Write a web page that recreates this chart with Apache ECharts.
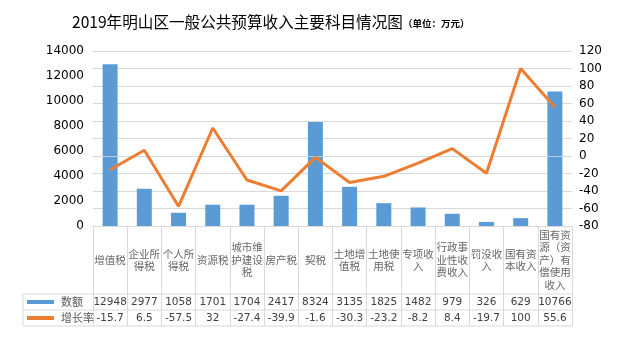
<!DOCTYPE html>
<html>
<head>
<meta charset="utf-8">
<script src="https://cdn.jsdelivr.net/npm/echarts@6/dist/echarts.min.js"></script>
<style>
html,body{margin:0;padding:0;background:#fff;}
#c{width:620px;height:342px;}
</style>
</head>
<body>
<div id="c"></div>
<script>
const categories = ['增值税','企业所得税','个人所得税','资源税','城市维护建设税','房产税','契税','土地增值税','土地使用税','专项收入','行政事业性收费收入','罚没收入','国有资本收入','国有资源（资产）有偿使用收入'];
const amounts = [12948, 2977, 1058, 1701, 1704, 2417, 8324, 3135, 1825, 1482, 979, 326, 629, 10766];
const rates = [-15.7, 6.5, -57.5, 32, -27.4, -39.9, -1.6, -30.3, -23.2, -8.2, 8.4, -19.7, 100, 55.6];
const seriesNames = ['数额', '增长率'];
const titleText = '2019年明山区一般公共预算收入主要科目情况图';
const unitText = '（单位：万元）';

const GL = 93, GR = 572, GT = 51, GB = 226;
const ROW1 = 294, ROW2 = 310, ROW3 = 326, TL = 23;
const lineColor = '#d9d9d9';
const font = "'Noto Sans CJK SC', 'DejaVu Sans', sans-serif";
const numFont = "'DejaVu Sans', sans-serif";

function wrap3(s) {
  const out = [];
  for (let i = 0; i < s.length; i += 3) out.push(s.slice(i, i + 3));
  return out.join('\n');
}

const chart = echarts.init(document.getElementById('c'), null, {renderer: 'canvas'});
const hl = (y) => ({type: 'line', shape: {x1: TL, y1: y, x2: GR, y2: y}, style: {stroke: lineColor, lineWidth: 1}, silent: true});
const vl = (x, y1, y2) => ({type: 'line', shape: {x1: x, y1: y1, x2: x, y2: y2}, style: {stroke: lineColor, lineWidth: 1}, silent: true});

chart.setOption({
  animation: false,
  title: {
    text: '{a|' + titleText + '}{b|' + unitText + '}',
    left: 67, top: 9,
    textStyle: {
      rich: {
        a: {fontSize: 15.6, fontFamily: font, color: '#000', fontWeight: 'normal'},
        b: {fontSize: 9.5, fontFamily: font, color: '#000', verticalAlign: 'bottom', padding: [0,0,1,0]}
      }
    }
  },
  legend: {
    orient: 'vertical', left: 27, top: ROW1, itemGap: 0, padding: 0,
    itemWidth: 27, itemHeight: 4,
    textStyle: {fontSize: 11, lineHeight: 16, color: '#595959', fontFamily: font, padding: [0,0,0,2]},
    data: [
      {name: seriesNames[0], icon: 'rect'},
      {name: seriesNames[1], icon: 'rect', itemStyle: {color: '#ED7D31'}}
    ]
  },
  grid: {left: GL, right: 620 - GR, top: GT, bottom: 342 - GB, containLabel: false},
  xAxis: [
    {
      type: 'category', data: categories, position: 'bottom',
      axisLine: {show: true, lineStyle: {color: lineColor, width: 1}},
      axisTick: {show: true, length: ROW3 - GB, lineStyle: {color: lineColor, width: 1}},
      axisLabel: {interval: 0, margin: 34, verticalAlign: 'middle', fontSize: 10.5, lineHeight: 12.5,
        color: '#666', fontFamily: font, formatter: wrap3}
    },
    {
      type: 'category', data: amounts.map(String), position: 'bottom', offset: ROW1 - GB,
      axisLine: {show: false}, axisTick: {show: false},
      axisLabel: {interval: 0, margin: 8, verticalAlign: 'middle', fontSize: 10.5, color: '#404040', fontFamily: numFont}
    },
    {
      type: 'category', data: rates.map(String), position: 'bottom', offset: ROW2 - GB,
      axisLine: {show: false}, axisTick: {show: false},
      axisLabel: {interval: 0, margin: 8, verticalAlign: 'middle', fontSize: 10.5, color: '#404040', fontFamily: numFont}
    }
  ],
  yAxis: [
    {
      type: 'value', min: 0, max: 14000, interval: 2000, position: 'left',
      axisLine: {show: false}, axisTick: {show: false}, splitLine: {show: false},
      axisLabel: {margin: 9, fontSize: 12, color: '#000', fontFamily: numFont, formatter: (v) => String(v)}
    },
    {
      type: 'value', min: -80, max: 120, interval: 20, position: 'right',
      axisLine: {show: false}, axisTick: {show: false},
      splitLine: {show: true, lineStyle: {color: lineColor, width: 1}},
      axisLabel: {margin: 7, fontSize: 12, color: '#000', fontFamily: numFont, formatter: (v) => String(v)}
    }
  ],
  series: [
    {
      name: seriesNames[0], type: 'bar', data: amounts, barWidth: 15,
      xAxisIndex: 0, yAxisIndex: 0,
      itemStyle: {color: '#5B9BD5'}
    },
    {
      name: seriesNames[1], type: 'line', data: rates, z: 4,
      xAxisIndex: 0, yAxisIndex: 1, symbol: 'none', showSymbol: false,
      lineStyle: {color: '#ED7D31', width: 3}, itemStyle: {color: '#ED7D31'},
      markLine: {silent: true, symbol: 'none', label: {show: false},
        lineStyle: {color: '#d0d7e0', width: 1, type: 'solid', opacity: 0.8}, data: [{yAxis: 0}], z: 3}
    }
  ],
  graphic: [hl(ROW1), hl(ROW2), hl(ROW3), vl(TL, ROW1, ROW3)]
});
</script>
</body>
</html>
